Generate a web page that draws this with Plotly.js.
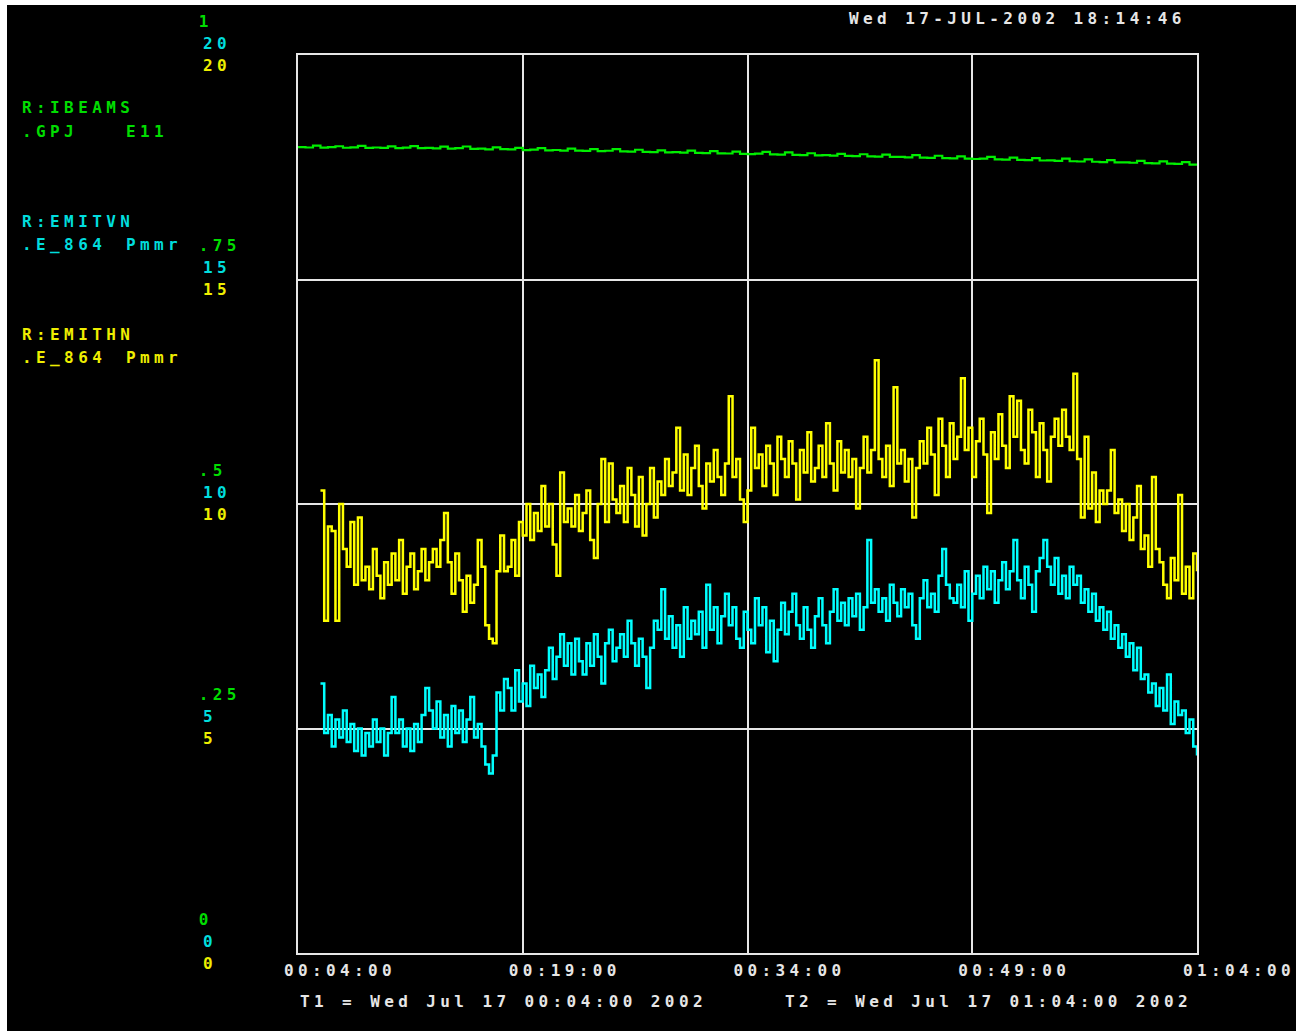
<!DOCTYPE html>
<html>
<head>
<meta charset="utf-8">
<script src="https://cdn.plot.ly/plotly-3.0.1.min.js"></script>
<style>
html, body { margin: 0; padding: 0; background: #ffffff; }
#chart { position: absolute; left: 7px; top: 5px; width: 1289px; height: 1026px; background: #000; }
text { letter-spacing: 4.4px; }
</style>
</head>
<body>
<div id="chart"></div>
<script>
// ---- data ----
const dateStr = "2002-07-17";
const greenStart = "00:04:00";   // IBEAMS sample start
const greenStepSec = 30;
const emitStart = "00:05:30";    // EMITVN / EMITHN sample start
const emitStepSec = 15;

const ibeams = [
 .8975,.8970,.8990,.8968,.8973,.8984,.8967,.8972,.8988,.8966,
 .8970,.8965,.8982,.8963,.8968,.8986,.8962,.8966,.8960,.8979,
 .8958,.8962,.8981,.8955,.8958,.8950,.8972,.8952,.8948,.8966,
 .8940,.8946,.8963,.8938,.8942,.8935,.8958,.8936,.8932,.8951,
 .8929,.8934,.8952,.8926,.8924,.8945,.8922,.8919,.8938,.8915,
 .8918,.8912,.8935,.8910,.8908,.8930,.8905,.8903,.8925,.8900,
 .8896,.8901,.8922,.8893,.8890,.8915,.8888,.8886,.8906,.8882,
 .8884,.8879,.8900,.8876,.8873,.8895,.8870,.8868,.8890,.8865,
 .8866,.8860,.8884,.8857,.8855,.8878,.8852,.8849,.8872,.8845,
 .8842,.8847,.8866,.8838,.8835,.8858,.8832,.8829,.8852,.8825,
 .8826,.8820,.8845,.8817,.8814,.8838,.8811,.8808,.8830,.8804,
 .8805,.8800,.8822,.8796,.8793,.8816,.8790,.8787,.8808,.8780,.8775
];

const emithn = [
 10.3,7.4,9.5,9.4,7.4,10.0,9.0,8.6,9.6,8.2,
 9.7,8.3,8.6,8.1,9.0,8.4,7.9,8.7,8.2,8.9,
 8.3,9.2,8.0,8.6,8.9,8.1,8.5,9.0,8.3,8.7,
 9.0,8.6,9.2,9.8,8.7,8.0,8.9,8.3,7.6,8.4,
 7.8,8.2,9.2,8.6,7.3,7.0,6.9,8.5,9.3,8.5,
 8.6,9.2,8.4,9.6,9.3,10.0,9.2,9.8,9.4,10.4,
 9.5,10.0,9.1,8.4,10.7,9.6,9.9,9.5,10.2,9.4,
 9.8,10.3,9.2,8.8,10.0,11.0,9.6,10.9,10.1,9.8,
 10.4,9.6,10.8,10.2,9.5,10.6,9.3,10.0,10.8,9.7,
 10.5,10.2,11.0,10.4,10.7,11.7,10.3,11.1,10.2,10.8,
 11.3,10.4,9.9,10.9,10.5,11.2,10.6,10.2,10.9,12.4,
 10.6,11.0,10.1,9.6,10.3,11.7,10.8,11.1,10.4,11.3,
 10.9,10.2,11.5,11.0,10.6,11.4,10.9,10.1,11.2,10.7,
 11.6,10.5,10.8,11.3,10.6,11.8,10.9,10.3,11.4,10.7,
 11.2,10.6,11.0,9.9,10.8,11.5,10.7,11.2,13.2,11.0,
 10.6,11.3,10.4,12.6,10.9,11.2,10.5,11.0,9.7,10.8,
 11.4,10.9,11.7,11.1,10.2,11.9,11.3,10.6,11.8,11.0,
 11.5,12.8,11.2,11.7,10.6,11.4,11.9,11.1,9.8,11.6,
 11.0,12.0,11.3,10.8,12.4,11.5,12.3,11.2,10.9,12.1,
 11.6,10.6,11.8,11.2,10.5,11.5,11.9,11.3,12.1,11.5,
 11.2,12.9,11.0,9.7,11.5,9.9,10.7,9.6,10.3,10.0,
 10.3,11.2,9.8,10.1,9.4,10.0,9.2,9.7,10.4,9.0,
 9.3,8.6,10.6,9.0,8.7,8.2,7.9,8.8,8.3,10.2,
 8.0,8.6,7.9,8.9,8.5
];

const emitvn = [
 6.0,4.9,5.3,4.6,5.2,4.8,5.4,4.7,5.1,4.5,
 5.0,4.4,4.9,4.6,5.2,4.7,5.0,4.4,4.9,5.7,
 4.9,5.2,4.6,5.0,4.5,5.1,4.7,5.3,5.9,5.4,
 5.0,5.6,4.8,5.3,4.6,5.5,4.9,5.4,4.7,5.2,
 5.7,4.8,5.1,4.6,4.2,4.0,4.4,5.8,5.4,6.1,
 5.9,5.4,6.3,5.6,6.0,5.5,6.4,5.9,6.2,5.7,
 6.3,6.8,6.1,6.6,7.1,6.4,6.9,6.2,7.0,6.5,
 6.2,6.9,6.4,7.1,6.6,6.0,6.9,7.2,6.5,6.8,
 7.1,6.6,7.4,6.9,6.4,7.0,6.6,5.9,6.8,7.4,
 7.2,8.1,7.0,7.5,6.8,7.3,6.6,7.7,7.0,7.4,
 7.1,7.6,6.8,8.2,7.2,7.7,6.9,7.5,8.0,7.3,
 7.7,7.0,6.8,7.6,7.2,6.9,7.9,7.3,7.7,6.7,
 7.4,6.5,7.2,7.8,7.1,7.6,8.0,7.3,7.0,7.7,
 7.2,6.8,7.5,7.9,7.3,6.9,7.6,8.1,7.4,7.8,
 7.3,7.9,7.5,8.0,7.2,7.7,9.2,7.8,8.1,7.6,
 7.9,7.4,8.2,7.8,7.5,8.1,7.7,8.0,7.3,7.0,
 7.9,8.3,7.7,8.0,7.6,8.4,9.0,8.2,7.9,7.8,
 8.2,7.7,8.5,7.4,8.0,8.4,7.9,8.6,8.1,8.5,
 7.8,8.3,8.7,8.1,8.5,9.2,8.3,7.9,8.6,8.2,
 7.6,8.5,8.8,9.2,8.6,8.2,8.8,8.0,8.4,7.9,
 8.6,8.2,8.4,7.8,8.1,7.6,8.0,7.4,7.7,7.2,
 7.6,7.0,7.3,6.8,7.1,6.6,6.9,6.3,6.8,6.1,
 6.2,5.8,6.0,5.5,5.9,5.4,6.2,5.1,5.6,5.3,
 5.4,4.9,5.2,4.6,4.4
];

const xTickVals = ["00:04:00","00:19:00","00:34:00","00:49:00","01:04:00"];
const greenTickVals = [0, 0.25, 0.5, 0.75, 1];
const greenTickText = ["0\u00a0\u00a0", ".25", ".5\u00a0", ".75", "1\u00a0\u00a0"];
const emitTickVals = [0, 5, 10, 15, 20];
const emitTickText = ["0\u00a0\u00a0", "5\u00a0\u00a0", "10\u00a0", "15\u00a0", "20\u00a0"];

// ---- helpers ----
function toSec(hms) { const p = hms.split(":").map(Number); return p[0]*3600 + p[1]*60 + p[2]; }
function pad(n) { return (n < 10 ? "0" : "") + n; }
function stamp(sec) {
  const h = Math.floor(sec/3600), m = Math.floor((sec%3600)/60), s = sec%60;
  return dateStr + " " + pad(h) + ":" + pad(m) + ":" + pad(s);
}
function times(start, step, n) {
  const s0 = toSec(start); const out = [];
  for (let i = 0; i < n; i++) out.push(stamp(s0 + i*step));
  return out;
}

const GREEN = "#00ee00", CYAN = "#00ffff", YELLOW = "#ffff00";
const TGREEN = "#00dd00", TCYAN = "#00dddd", TYELLOW = "#eeee00";
const FONT = "DejaVu Sans Mono";
const FW = "bold";

const traces = [
  { x: times(greenStart, greenStepSec, ibeams.length), y: ibeams, yaxis: "y",
    mode: "lines", line: { color: GREEN, width: 2.2, shape: "hv" }, name: "R:IBEAMS" },
  { x: times(emitStart, emitStepSec, emitvn.length), y: emitvn, yaxis: "y2",
    mode: "lines", line: { color: CYAN, width: 2.5, shape: "hv" }, name: "R:EMITVN" },
  { x: times(emitStart, emitStepSec, emithn.length), y: emithn, yaxis: "y3",
    mode: "lines", line: { color: YELLOW, width: 2.5, shape: "hv" }, name: "R:EMITHN" }
];

const W = 899, H = 898; // plot area px
function px(pageX) { return (pageX - 298) / W; }
function py(pageY) { return (953 - pageY) / H; }
function ann(text, pageX, pageY, color) {
  return { text: text, x: px(pageX), y: py(pageY), xref: "paper", yref: "paper",
    xanchor: "left", yanchor: "middle", showarrow: false,
    font: { family: FONT, size: 16, color: color, weight: FW } };
}

function yAx(vals, text, color, shift, overlay) {
  const a = {
    range: [vals[0], vals[vals.length-1]], tickmode: "array", tickvals: vals, ticktext: text,
    tickfont: { family: FONT, size: 16, color: color, weight: FW }, ticks: "", side: "left",
    ticklabelshift: shift, ticklabelstandoff: 52, fixedrange: true, zeroline: false
  };
  if (overlay) { a.overlaying = "y"; a.showgrid = false; a.showline = false; a.anchor = "x"; }
  else { a.showgrid = true; a.gridcolor = "#e6e6e6"; a.gridwidth = 2;
         a.showline = true; a.mirror = true; a.linecolor = "#e6e6e6"; a.linewidth = 2; }
  return a;
}

const layout = {
  width: 1289, height: 1026,
  paper_bgcolor: "#000000", plot_bgcolor: "#000000",
  margin: { l: 291, r: 99, t: 50, b: 78 },
  showlegend: false, hovermode: false,
  xaxis: {
    type: "date", range: [dateStr + " 00:04:00", dateStr + " 01:04:00"],
    tickmode: "array", tickvals: xTickVals.map(t => dateStr + " " + t), ticktext: xTickVals,
    tickfont: { family: FONT, size: 16, color: "#e6e6e6", weight: FW }, ticks: "",
    ticklabelshift: 42, ticklabelstandoff: 2,
    showgrid: true, gridcolor: "#e6e6e6", gridwidth: 2,
    showline: true, mirror: true, linecolor: "#e6e6e6", linewidth: 2,
    zeroline: false, fixedrange: true
  },
  yaxis: yAx(greenTickVals, greenTickText, TGREEN, -34, false),
  yaxis2: yAx(emitTickVals, emitTickText, TCYAN, -12, true),
  yaxis3: yAx(emitTickVals, emitTickText, TYELLOW, 10, true),
  annotations: [
    ann("Wed 17-JUL-2002 18:14:46", 847, 18, "#e6e6e6"),
    ann("R:IBEAMS", 20, 108, TGREEN),
    ann(".GPJ", 20, 131, TGREEN),
    ann("E11", 124, 131, TGREEN),
    ann("R:EMITVN", 20, 221, TCYAN),
    ann(".E_864", 20, 244, TCYAN),
    ann("Pmmr", 124, 244, TCYAN),
    ann("R:EMITHN", 20, 334, TYELLOW),
    ann(".E_864", 20, 357, TYELLOW),
    ann("Pmmr", 124, 357, TYELLOW),
    ann("T1 = Wed Jul 17 00:04:00 2002", 298, 1001, "#e6e6e6"),
    ann("T2 = Wed Jul 17 01:04:00 2002", 783, 1001, "#e6e6e6")
  ]
};

Plotly.newPlot("chart", traces, layout, { staticPlot: true, displayModeBar: false });
</script>
</body>
</html>
